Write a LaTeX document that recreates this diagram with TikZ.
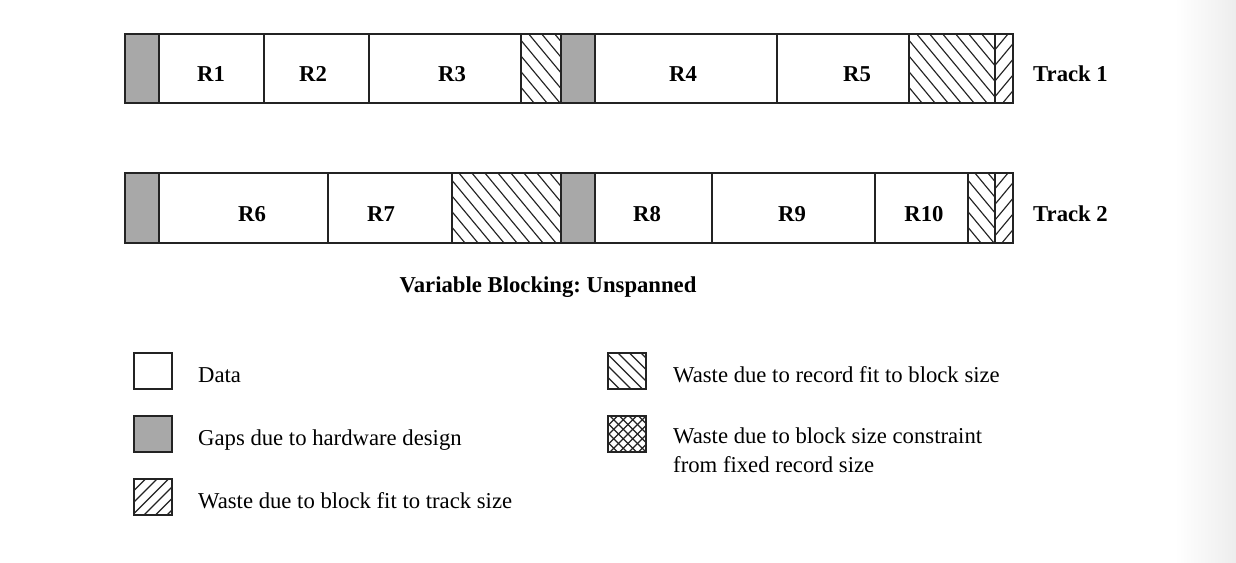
\documentclass[tikz,border=0pt]{standalone}
\usepackage{fontspec}
\setmainfont{Liberation Serif}
\definecolor{gapgray}{RGB}{168,168,168}
\definecolor{ink}{RGB}{35,35,35}
\frenchspacing
% back-slash hatching "\" : x1 y1 x2 y2 spacing slope(dx/dy)
\newcommand\backhatch[6]{%
  \begin{scope}
    \clip (#1,#2) rectangle (#3,#4);
    \pgfmathsetmacro\hh{#4-#2}
    \pgfmathsetmacro\ww{#6*(#4-#2)}
    \foreach \k in {0,...,40}{\draw[hatchline] ({#1-\ww+\k*#5},#2) -- ++(\ww,\hh);}
  \end{scope}}
% forward-slash hatching "/"
\newcommand\fwdhatch[6]{%
  \begin{scope}
    \clip (#1,#2) rectangle (#3,#4);
    \pgfmathsetmacro\hh{#4-#2}
    \pgfmathsetmacro\ww{#6*(#4-#2)}
    \foreach \k in {0,...,40}{\draw[hatchline] ({#1-\ww+\k*#5},#4) -- ++(\ww,-\hh);}
  \end{scope}}
\begin{document}
\begin{tikzpicture}[x=1pt,y=-1pt,
  outline/.style={draw=ink,line width=1.6pt},
  divider/.style={draw=ink,line width=1.2pt},
  hatchline/.style={draw=ink,line width=1.15pt},
  gapfill/.style={fill=gapgray},
  rlabel/.style={font=\fontsize{22.7}{27}\selectfont\bfseries,anchor=base,inner sep=0pt},
  tlabel/.style={rlabel,anchor=base west},
  legtext/.style={font=\fontsize{22.7}{27}\selectfont,anchor=base west,inner sep=0pt},
  legbox/.style={draw=ink,line width=1.4pt,minimum width=38pt,minimum height=36pt,inner sep=0pt},
]
\useasboundingbox (0,0) rectangle (1236,562);
\fill[white] (0,0) rectangle (1236,562);
\shade[left color=white,right color=gray!14] (1175,0) rectangle (1236,562);

% ---------- Track 1 ----------
\path[gapfill] (125,34) rectangle (159,103);
\path[gapfill] (561,34) rectangle (595,103);
\backhatch{521}{34}{561}{103}{13}{0.83}
\backhatch{909}{34}{995}{103}{13}{0.83}
\fwdhatch{995}{34}{1013}{103}{13}{0.83}
\foreach \xx in {159,264,369,521,561,595,777,909,995}
  \draw[divider] (\xx,34) -- (\xx,103);
\draw[outline] (125,34) rectangle (1013,103);
\node[rlabel] (r1) at (211,81) {R1};
\node[rlabel] (r2) at (313,81) {R2};
\node[rlabel] (r3) at (452,81) {R3};
\node[rlabel] (r4) at (683,81) {R4};
\node[rlabel] (r5) at (857,81) {R5};
\node[tlabel] (t1) at (1033,81) {Track 1};

% ---------- Track 2 ----------
\path[gapfill] (125,173) rectangle (159,243);
\path[gapfill] (561,173) rectangle (595,243);
\backhatch{452}{173}{561}{243}{13}{0.83}
\backhatch{968}{173}{995}{243}{13}{0.83}
\fwdhatch{995}{173}{1013}{243}{13}{0.83}
\foreach \xx in {159,328,452,561,595,712,875,968,995}
  \draw[divider] (\xx,173) -- (\xx,243);
\draw[outline] (125,173) rectangle (1013,243);
\node[rlabel] (r6) at (252,221) {R6};
\node[rlabel] (r7) at (381,221) {R7};
\node[rlabel] (r8) at (647,221) {R8};
\node[rlabel] (r9) at (792,221) {R9};
\node[rlabel] (r10) at (924,221) {R10};
\node[tlabel] (t2) at (1033,221) {Track 2};

% ---------- Caption ----------
\node[rlabel] (caption) at (548,292) {Variable Blocking: Unspanned};

% ---------- Legend ----------
\node[legbox,fill=white] (kdata) at (153,371) {};
\node[legtext] (ldata) at (198,382) {Data};
\node[legbox,fill=gapgray] (kgap) at (153,434) {};
\node[legtext] (lgap) at (198,445) {Gaps due to hardware design};
\fwdhatch{134}{479}{172}{515}{11.5}{1}
\node[legbox] (kblk) at (153,497) {};
\node[legtext] (lblk) at (198,508) {Waste due to block fit to track size};
\backhatch{608}{353}{646}{389}{11.5}{1}
\node[legbox] (krec) at (627,371) {};
\node[legtext] (lrec) at (673,382) {Waste due to record fit to block size};
\backhatch{608}{416}{646}{452}{9.5}{1}
\fwdhatch{608}{416}{646}{452}{9.5}{1}
\node[legbox] (kcross) at (627,434) {};
\node[legtext] (lcross1) at (673,443) {Waste due to block size constraint};
\node[legtext] (lcross2) at (673,472) {from fixed record size};
\end{tikzpicture}
\end{document}
